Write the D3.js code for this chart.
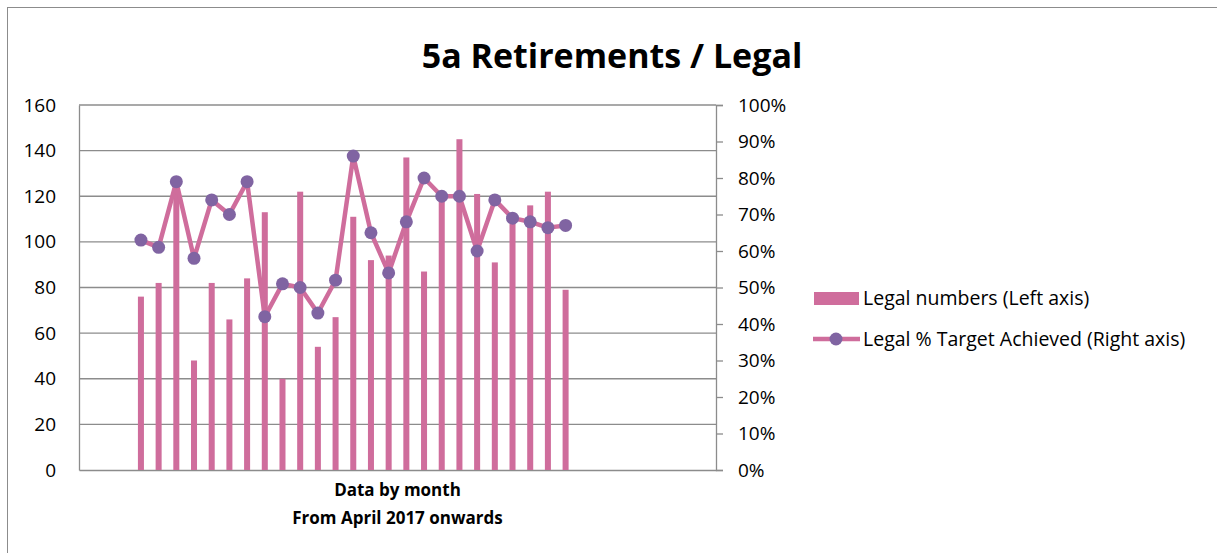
<!DOCTYPE html>
<html>
<head>
<meta charset="utf-8">
<script src="https://cdn.jsdelivr.net/npm/d3@7"></script>
<style>
  body { margin: 0; background: #fff; }
  svg { display: block; font-family: "Open Sans", sans-serif; }
</style>
</head>
<body>
<svg id="chart" width="1217" height="553"></svg>
<script>
// months on the category axis (Jan 2017 - Dec 2019), data starts April 2017
const months = [
  "Jan 2017", "Feb 2017", "Mar 2017", "Apr 2017", "May 2017", "Jun 2017",
  "Jul 2017", "Aug 2017", "Sep 2017", "Oct 2017", "Nov 2017", "Dec 2017",
  "Jan 2018", "Feb 2018", "Mar 2018", "Apr 2018", "May 2018", "Jun 2018",
  "Jul 2018", "Aug 2018", "Sep 2018", "Oct 2018", "Nov 2018", "Dec 2018",
  "Jan 2019", "Feb 2019", "Mar 2019", "Apr 2019", "May 2019", "Jun 2019",
  "Jul 2019", "Aug 2019", "Sep 2019", "Oct 2019", "Nov 2019", "Dec 2019"
];
const firstMonth = "Apr 2017";

// Legal numbers (left axis)
const legalNumbers = [76, 82, 125, 48, 82, 66, 84, 113, 40, 122, 54, 67, 111,
  92, 94, 137, 87, 119, 145, 121, 91, 110, 116, 122, 79];

// Legal % target achieved (right axis)
const legalPct = [0.63, 0.61, 0.79, 0.58, 0.74, 0.70, 0.79, 0.42, 0.51, 0.50,
  0.43, 0.52, 0.86, 0.65, 0.54, 0.68, 0.80, 0.75, 0.75, 0.60, 0.74, 0.69,
  0.68, 0.664, 0.67];

const leftTicks = [0, 20, 40, 60, 80, 100, 120, 140, 160];
const rightTicks = [0, 0.1, 0.2, 0.3, 0.4, 0.5, 0.6, 0.7, 0.8, 0.9, 1];

const barColor = "#cf6d9c";
const markerColor = "#8064a2";
const gridColor = "#8c8c8c";

const svg = d3.select("#chart");

// outer chart frame (cut by the picture on the right and bottom)
svg.append("rect")
  .attr("x", 7.5).attr("y", 7.5)
  .attr("width", 1300).attr("height", 700)
  .attr("fill", "none")
  .attr("stroke", gridColor);

const plot = { left: 79, right: 716, top: 105, bottom: 470 };

const start = months.indexOf(firstMonth);
const data = legalNumbers.map((v, i) => ({
  month: months[start + i],
  count: v,
  pct: legalPct[i]
}));

const x = d3.scaleBand()
  .domain(months)
  .range([plot.left, plot.right])
  .paddingInner(0.66)
  .paddingOuter(0.33);

const yLeft = d3.scaleLinear().domain([0, 160]).range([plot.bottom, plot.top]);
const yRight = d3.scaleLinear().domain([0, 1]).range([plot.bottom, plot.top]);

// gridlines
svg.append("g")
  .selectAll("line")
  .data(leftTicks.slice(1))
  .enter()
  .append("line")
  .attr("x1", plot.left)
  .attr("x2", plot.right)
  .attr("y1", d => yLeft(d))
  .attr("y2", d => yLeft(d))
  .attr("stroke", gridColor)
  .attr("stroke-width", 1.3);

// left axis
const leftAxis = svg.append("g")
  .attr("transform", `translate(${plot.left},0)`)
  .call(d3.axisLeft(yLeft).tickValues(leftTicks).tickSize(0).tickPadding(23));

// right axis
const rightAxis = svg.append("g")
  .attr("transform", `translate(${plot.right},0)`)
  .call(d3.axisRight(yRight).tickValues(rightTicks).tickSize(7).tickPadding(15)
    .tickFormat(d3.format(".0%")));

// bottom axis line (no labels)
svg.append("g")
  .attr("transform", `translate(0,${plot.bottom})`)
  .call(d3.axisBottom(x).tickSize(0).tickFormat(""));

[leftAxis, rightAxis].forEach(g => {
  g.selectAll("text")
    .attr("font-family", "Open Sans, sans-serif")
    .attr("font-size", 19)
    .attr("fill", "#000");
});
svg.selectAll(".domain").attr("stroke", gridColor).attr("stroke-width", 1.3);
svg.selectAll(".tick line").attr("stroke", gridColor).attr("stroke-width", 1.3);

// bars
svg.append("g")
  .selectAll("rect")
  .data(data)
  .enter()
  .append("rect")
  .attr("x", d => x(d.month))
  .attr("y", d => yLeft(d.count))
  .attr("width", x.bandwidth())
  .attr("height", d => yLeft(0) - yLeft(d.count))
  .attr("fill", barColor);

// % line
const cx = d => x(d.month) + x.bandwidth() / 2;
const line = d3.line().x(cx).y(d => yRight(d.pct));

svg.append("path")
  .datum(data)
  .attr("d", line)
  .attr("fill", "none")
  .attr("stroke", barColor)
  .attr("stroke-width", 4.5)
  .attr("stroke-linejoin", "round");

svg.append("g")
  .selectAll("circle")
  .data(data)
  .enter()
  .append("circle")
  .attr("cx", cx)
  .attr("cy", d => yRight(d.pct))
  .attr("r", 6.5)
  .attr("fill", markerColor);

// title
svg.append("text")
  .attr("x", 612)
  .attr("y", 68)
  .attr("text-anchor", "middle")
  .attr("font-size", 34)
  .attr("font-weight", "bold")
  .text("5a Retirements / Legal");

// category axis title
const xTitle = svg.append("text")
  .attr("x", (plot.left + plot.right) / 2)
  .attr("text-anchor", "middle")
  .attr("font-size", 17)
  .attr("font-weight", "bold");
xTitle.append("tspan").attr("x", (plot.left + plot.right) / 2).attr("y", 496).text("Data by month");
xTitle.append("tspan").attr("x", (plot.left + plot.right) / 2).attr("y", 524).text("From April 2017 onwards");

// legend
const legend = svg.append("g").attr("font-size", 19.5);
legend.append("rect")
  .attr("x", 814).attr("y", 292)
  .attr("width", 45).attr("height", 13)
  .attr("fill", barColor);
legend.append("text").attr("x", 863).attr("y", 305).text("Legal numbers (Left axis)");

legend.append("line")
  .attr("x1", 813).attr("x2", 860)
  .attr("y1", 339).attr("y2", 339)
  .attr("stroke", barColor)
  .attr("stroke-width", 4.5);
legend.append("circle")
  .attr("cx", 836).attr("cy", 339).attr("r", 6.5)
  .attr("fill", markerColor);
legend.append("text").attr("x", 863).attr("y", 346).text("Legal % Target Achieved (Right axis)");
</script>
</body>
</html>
